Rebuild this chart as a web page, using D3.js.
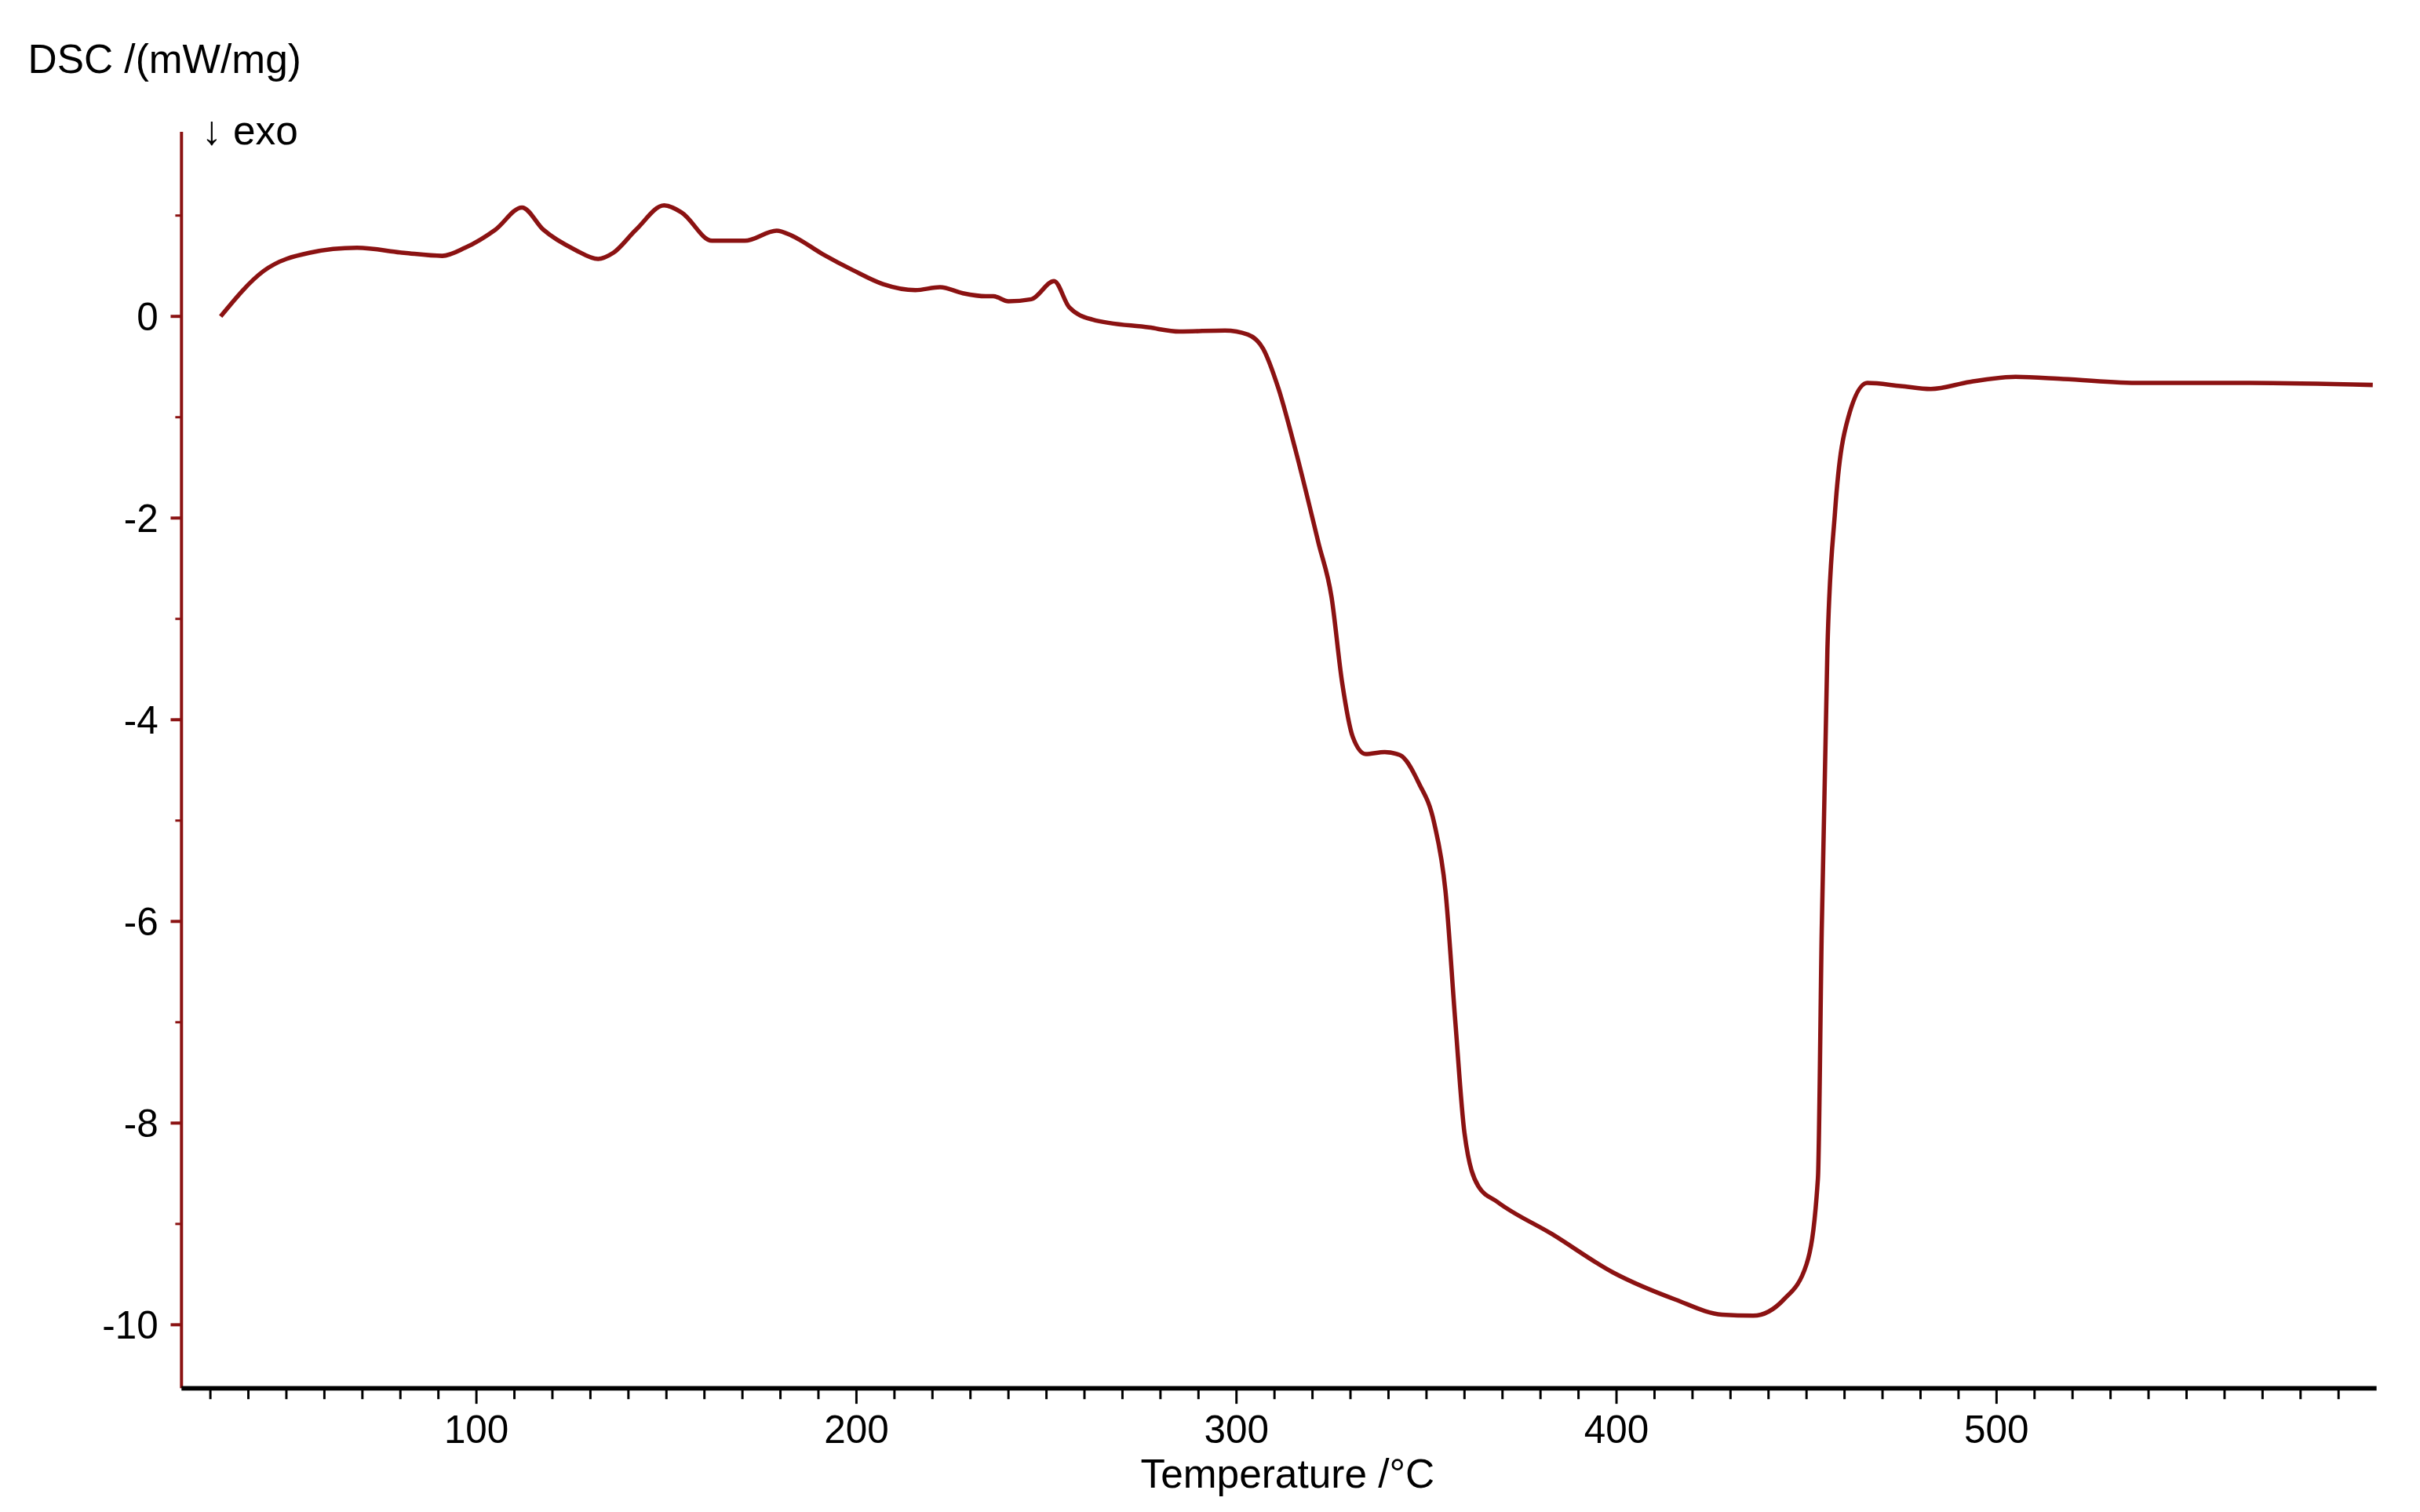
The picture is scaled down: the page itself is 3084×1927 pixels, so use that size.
<!DOCTYPE html>
<html>
<head>
<meta charset="utf-8">
<script src="https://cdn.jsdelivr.net/npm/d3@7"></script>
<style>
  html, body { margin: 0; padding: 0; background: #fff; }
  svg { display: block; }
</style>
</head>
<body>
<svg id="chart"></svg>
<script>
const W = 3084, H = 1927
const k = W / 1560

// temperature (°C) and DSC (mW/mg)
const temperature = [32.7, 44, 56, 68.6, 81, 91, 97, 105, 112, 117.6, 126, 132, 136, 142, 149.4, 154, 162, 170.6, 179, 183, 191, 199, 207, 215.5, 222, 228, 234, 236, 240, 246, 252, 256, 262, 277, 285, 297, 303, 307, 311, 315.5, 321.6, 325, 327.8, 330.6, 334, 339, 343, 348, 352, 355, 357.6, 360, 363.7, 368.6, 383, 399, 415.5, 427.8, 436, 444, 450, 453, 454, 455.5, 457.5, 461, 466, 474.7, 482.7, 493, 505, 517.5, 538, 566.5, 599]
const dsc = [0, 0.45, 0.63, 0.68, 0.63, 0.6, 0.68, 0.86, 1.08, 0.86, 0.66, 0.57, 0.63, 0.86, 1.1, 1.03, 0.75, 0.75, 0.85, 0.8, 0.62, 0.46, 0.32, 0.26, 0.29, 0.23, 0.2, 0.2, 0.15, 0.17, 0.35, 0.09, -0.03, -0.11, -0.15, -0.14, -0.18, -0.32, -0.71, -1.32, -2.25, -2.78, -3.63, -4.17, -4.34, -4.32, -4.35, -4.63, -5.02, -5.7, -7.0, -8.1, -8.63, -8.78, -9.1, -9.48, -9.75, -9.9, -9.91, -9.75, -9.4, -8.55, -6.1, -3.3, -1.94, -1.0, -0.66, -0.69, -0.72, -0.65, -0.6, -0.62, -0.66, -0.66, -0.68]
const xTicks = [100, 200, 300, 400, 500]
const yTicks = [0, -2, -4, -6, -8, -10]

const svg = d3.select('#chart').attr('width', W).attr('height', H)
  .attr('viewBox', [0, 0, 1560, H / k])
  .attr('font-family', 'Liberation Sans, Arial, sans-serif')

const x = d3.scaleLinear().domain([22.4, 600]).range([117, 1532])
const y = d3.scaleLinear().domain([1.83, -10.63]).range([85, 895])
const red = '#8b1212'

// y axis (red)
const yAxis = svg.append('g').attr('transform', 'translate(117,0)')
yAxis.append('line').attr('y1', y.range()[0]).attr('y2', y.range()[1]).attr('stroke', red).attr('stroke-width', 2)
yAxis.selectAll('.minor').data(d3.range(-10, 2)).join('line')
  .attr('x1', -4).attr('x2', 0).attr('y1', d => y(d)).attr('y2', d => y(d))
  .attr('stroke', red).attr('stroke-width', 1.5)
yAxis.selectAll('.major').data(yTicks).join('line')
  .attr('x1', -7).attr('x2', 0).attr('y1', d => y(d)).attr('y2', d => y(d))
  .attr('stroke', red).attr('stroke-width', 2)
yAxis.selectAll('text').data(yTicks).join('text')
  .attr('x', -15).attr('y', d => y(d)).attr('dy', '0.36em')
  .attr('text-anchor', 'end').attr('font-size', 25).text(d => d)

// x axis (black)
const xAxis = svg.append('g').attr('transform', 'translate(0,895)')
xAxis.append('line').attr('x1', 117).attr('x2', 1532).attr('stroke', '#000').attr('stroke-width', 3)
xAxis.selectAll('.minor').data(d3.range(30, 600, 10)).join('line')
  .attr('x1', d => x(d)).attr('x2', d => x(d)).attr('y1', 0).attr('y2', d => d % 100 === 0 ? 10 : 7)
  .attr('stroke', '#000').attr('stroke-width', 1.5)
xAxis.selectAll('text').data(xTicks).join('text')
  .attr('x', d => x(d)).attr('y', 35).attr('text-anchor', 'middle').attr('font-size', 25).text(d => d)

svg.append('text').attr('x', 830).attr('y', 959).attr('text-anchor', 'middle').attr('font-size', 26)
  .text('Temperature /°C')
svg.append('text').attr('x', 18).attr('y', 47).attr('font-size', 26).text('DSC /(mW/mg)')
svg.append('text').attr('x', 130).attr('y', 93).attr('font-size', 26).text('↓ exo')

const line = d3.line().x(d => x(d[0])).y(d => y(d[1])).curve(d3.curveMonotoneX)
svg.append('path').datum(d3.zip(temperature, dsc)).attr('d', line)
  .attr('fill', 'none').attr('stroke', red).attr('stroke-width', 2.8)
</script>
</body>
</html>
